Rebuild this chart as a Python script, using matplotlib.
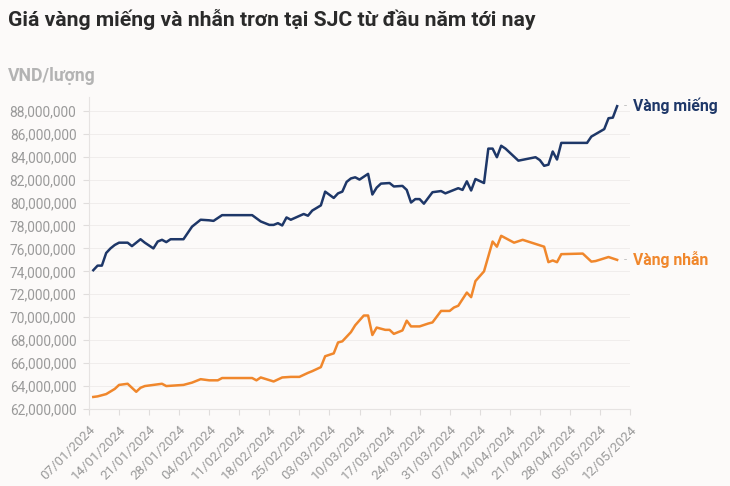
import matplotlib
matplotlib.use("Agg")
import matplotlib.pyplot as plt
import matplotlib.ticker as mticker
import pandas as pd

plt.rcParams['font.family'] = ['Roboto', 'Open Sans', 'DejaVu Sans']

title = "Giá vàng miếng và nhẫn trơn tại SJC từ đầu năm tới nay"
unit_label = "VND/lượng"

mieng_dates = ["2024-01-08", "2024-01-09", "2024-01-10", "2024-01-11", "2024-01-12", "2024-01-13",
               "2024-01-14", "2024-01-16", "2024-01-17", "2024-01-19", "2024-01-20", "2024-01-22",
               "2024-01-23", "2024-01-24", "2024-01-25", "2024-01-26", "2024-01-29", "2024-01-31",
               "2024-02-02", "2024-02-04", "2024-02-05", "2024-02-07", "2024-02-14", "2024-02-16",
               "2024-02-18", "2024-02-19", "2024-02-20", "2024-02-21", "2024-02-22", "2024-02-23",
               "2024-02-26", "2024-02-27", "2024-02-28", "2024-03-01", "2024-03-02", "2024-03-04",
               "2024-03-05", "2024-03-06", "2024-03-07", "2024-03-08", "2024-03-09", "2024-03-10",
               "2024-03-12", "2024-03-13", "2024-03-14", "2024-03-15", "2024-03-17", "2024-03-18",
               "2024-03-20", "2024-03-21", "2024-03-22", "2024-03-23", "2024-03-24", "2024-03-25",
               "2024-03-27", "2024-03-29", "2024-03-30", "2024-04-02", "2024-04-03", "2024-04-04",
               "2024-04-05", "2024-04-06", "2024-04-08", "2024-04-09", "2024-04-10", "2024-04-11",
               "2024-04-12", "2024-04-13", "2024-04-16", "2024-04-20", "2024-04-21", "2024-04-22",
               "2024-04-23", "2024-04-24", "2024-04-25", "2024-04-26", "2024-05-02", "2024-05-03",
               "2024-05-06", "2024-05-07", "2024-05-08", "2024-05-09"]
mieng_values = [74.1, 74.5, 74.5, 75.6, 76.0, 76.3,
                76.5, 76.5, 76.2, 76.8, 76.5, 76.0,
                76.6, 76.75, 76.55, 76.8, 76.8, 77.9,
                78.5, 78.45, 78.4, 78.9, 78.9, 78.35,
                78.05, 78.05, 78.2, 78.0, 78.7, 78.5,
                79.0, 78.85, 79.3, 79.75, 80.95, 80.4,
                80.8, 80.95, 81.8, 82.1, 82.2, 82.0,
                82.5, 80.7, 81.3, 81.65, 81.7, 81.4,
                81.45, 81.1, 80.0, 80.3, 80.3, 79.9,
                80.9, 81.0, 80.8, 81.25, 81.1, 81.85,
                81.05, 82.05, 81.7, 84.7, 84.7, 83.95,
                84.95, 84.7, 83.65, 83.95, 83.7, 83.2,
                83.3, 84.45, 83.75, 85.2, 85.2, 85.75,
                86.4, 87.35, 87.4, 88.4]

nhan_dates = ["2024-01-08", "2024-01-09", "2024-01-11", "2024-01-13", "2024-01-14", "2024-01-16",
              "2024-01-17", "2024-01-18", "2024-01-19", "2024-01-20", "2024-01-22", "2024-01-24",
              "2024-01-25", "2024-01-27", "2024-01-29", "2024-01-31", "2024-02-02", "2024-02-04",
              "2024-02-06", "2024-02-07", "2024-02-14", "2024-02-15", "2024-02-16", "2024-02-19",
              "2024-02-21", "2024-02-23", "2024-02-25", "2024-02-27", "2024-02-28", "2024-03-01",
              "2024-03-02", "2024-03-04", "2024-03-05", "2024-03-06", "2024-03-07", "2024-03-08",
              "2024-03-09", "2024-03-11", "2024-03-12", "2024-03-13", "2024-03-14", "2024-03-16",
              "2024-03-17", "2024-03-18", "2024-03-20", "2024-03-21", "2024-03-22", "2024-03-24",
              "2024-03-26", "2024-03-27", "2024-03-29", "2024-03-31", "2024-04-01", "2024-04-02",
              "2024-04-04", "2024-04-05", "2024-04-06", "2024-04-08", "2024-04-10", "2024-04-11",
              "2024-04-12", "2024-04-15", "2024-04-17", "2024-04-22", "2024-04-23", "2024-04-24",
              "2024-04-25", "2024-04-26", "2024-05-01", "2024-05-03", "2024-05-04", "2024-05-07",
              "2024-05-09"]
nhan_values = [63.05, 63.1, 63.3, 63.75, 64.1, 64.2,
               63.85, 63.5, 63.85, 64.0, 64.1, 64.2,
               64.0, 64.05, 64.1, 64.3, 64.6, 64.5,
               64.5, 64.7, 64.7, 64.5, 64.75, 64.4,
               64.75, 64.8, 64.8, 65.15, 65.3, 65.65,
               66.6, 66.85, 67.8, 67.9, 68.3, 68.7,
               69.3, 70.15, 70.15, 68.45, 69.1, 68.9,
               68.9, 68.55, 68.85, 69.7, 69.2, 69.2,
               69.45, 69.55, 70.55, 70.55, 70.85, 71.0,
               72.15, 71.75, 73.15, 74.0, 76.6, 76.15,
               77.1, 76.5, 76.75, 76.15, 74.8, 74.95,
               74.8, 75.5, 75.55, 74.85, 74.9, 75.25,
               75.0]

tick_dates = pd.date_range("2024-01-07", "2024-05-12", freq="7D")

NAVY = "#1e3768"
ORANGE = "#f0872c"
GRAY = "#9a9a9a"
BG = "#fcfaf9"

fig = plt.figure(figsize=(7.3, 4.86), dpi=100, facecolor=BG)
ax = fig.add_axes([89 / 730, 1 - 409 / 486, (630 - 89) / 730, (409 - 97) / 486])
ax.set_facecolor(BG)

md = pd.to_datetime(mieng_dates)
nd = pd.to_datetime(nhan_dates)
ax.plot(md, [v * 1e6 for v in mieng_values], color=NAVY, lw=1.8, solid_joinstyle='round')
ax.plot(nd, [v * 1e6 for v in nhan_values], color=ORANGE, lw=1.8, solid_joinstyle='round')

ax.set_xlim(tick_dates[0], tick_dates[-1])
ax.set_ylim(62e6, 89.2e6)
ax.yaxis.set_major_locator(mticker.MultipleLocator(2e6))
ax.yaxis.set_major_formatter(mticker.FuncFormatter(lambda v, p: f"{int(round(v)):,}"))
ax.set_xticks(tick_dates)
ax.set_xticklabels([d.strftime("%d/%m/%Y") for d in tick_dates], rotation=45,
                   ha='right', va='top', rotation_mode='anchor')

for s in ['top', 'right']:
    ax.spines[s].set_visible(False)
for s in ['left', 'bottom']:
    ax.spines[s].set_color("#e6e3e2")
    ax.spines[s].set_linewidth(0.8)
ax.grid(axis='y', color="#f0edec", lw=0.7)
ax.tick_params(axis='y', colors="#e0dddc", labelcolor=GRAY, labelsize=9.9, length=4, pad=5)
ax.tick_params(axis='x', colors="#e0dddc", labelcolor=GRAY, labelsize=9.6, length=4, pad=6)

# end labels
ax.annotate("-", xy=(md[-1], mieng_values[-1] * 1e6), xytext=(5, 0), textcoords='offset points',
            color="#bbbbbb", fontsize=8, va='center', ha='left')
ax.annotate("Vàng miếng", xy=(md[-1], mieng_values[-1] * 1e6), xytext=(11.5, 0), textcoords='offset points',
            color=NAVY, fontsize=11.3, fontweight='bold', va='center', ha='left')
ax.annotate("-", xy=(nd[-1], nhan_values[-1] * 1e6), xytext=(5, 0), textcoords='offset points',
            color="#bbbbbb", fontsize=8, va='center', ha='left')
ax.annotate("Vàng nhẫn", xy=(nd[-1], nhan_values[-1] * 1e6), xytext=(11.5, 0), textcoords='offset points',
            color=ORANGE, fontsize=11.3, fontweight='bold', va='center', ha='left')

fig.text(8 / 730, 1 - 19 / 486, title, fontsize=15.2, fontweight='bold', color="#2a2a2a",
         ha='left', va='center')
fig.text(8 / 730, 1 - 76 / 486, unit_label, fontsize=12.7, fontweight='bold', color="#b3b3b3",
         ha='left', va='center')

fig.savefig("out.png", dpi=100, facecolor=BG)
